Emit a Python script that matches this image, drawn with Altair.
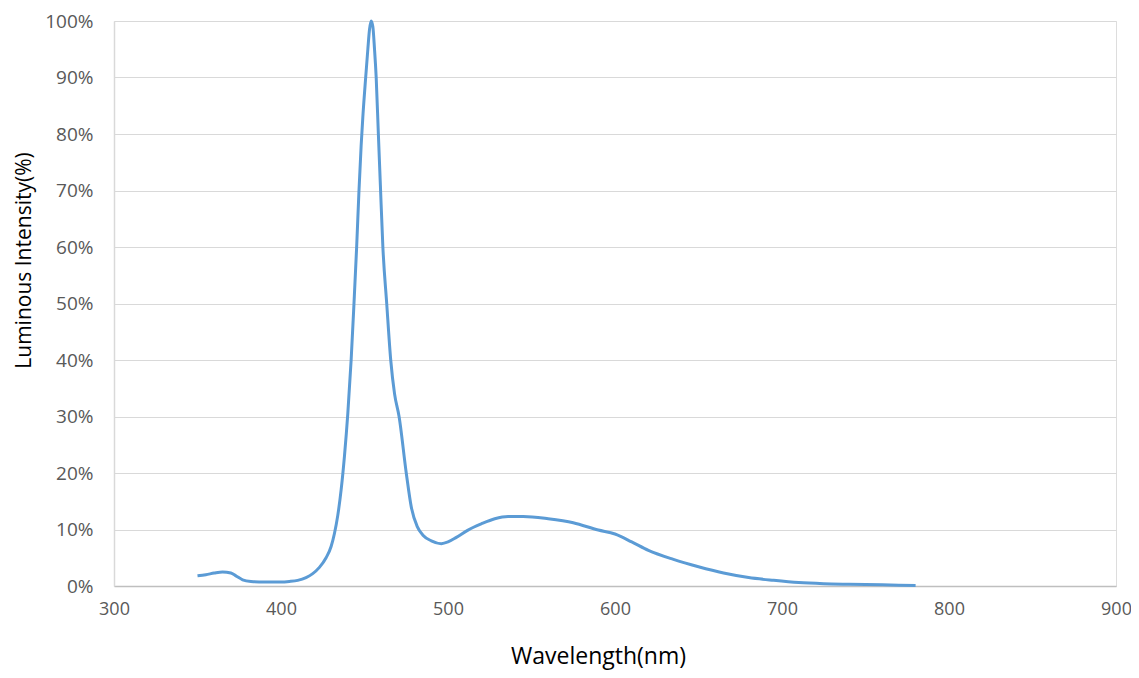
import altair as alt
import pandas as pd

wavelength = [350, 355, 360, 365, 370, 373, 377, 382, 390, 400, 405, 410, 415, 419,
              423, 427, 430, 432, 434, 436, 438, 440, 442, 443.7, 445.3, 446.7, 448,
              449, 450.7, 452, 453, 454, 455, 456, 457, 458.3, 459.5, 461, 463.3,
              465.7, 468, 470.7, 475, 478, 481.6, 485, 490, 496, 500, 505, 512, 520,
              528, 536, 545, 560, 575, 590, 600, 610, 620, 635, 650, 665, 680, 695,
              710, 725, 740, 760, 780]
intensity = [1.8, 2.0, 2.3, 2.5, 2.3, 1.8, 1.1, 0.8, 0.7, 0.7, 0.8, 1.0, 1.5, 2.2,
             3.3, 5.0, 7.0, 9.3, 12.5, 17, 23, 30.5, 40, 50, 60, 70, 78,
             83, 90, 95, 98.5, 100, 99, 95, 90, 80, 71, 60, 50,
             40, 34, 30, 20, 14, 10.5, 9, 8, 7.5, 7.8, 8.6, 9.9, 11.0,
             11.9, 12.3, 12.3, 11.9, 11.2, 9.9, 9.2, 7.8, 6.3, 4.7, 3.4, 2.3, 1.5, 1.0,
             0.6, 0.4, 0.3, 0.2, 0.1]

x_ticks = [300, 400, 500, 600, 700, 800, 900]
y_ticks = [0, 10, 20, 30, 40, 50, 60, 70, 80, 90, 100]

df = pd.DataFrame({"wl": wavelength, "val": intensity})

FONT = "Open Sans"

chart = alt.Chart(df).mark_line(
    color="#5b9bd5", strokeWidth=3, interpolate="monotone"
).encode(
    x=alt.X("wl:Q", scale=alt.Scale(domain=[300, 900], nice=False),
            axis=alt.Axis(values=x_ticks, title="Wavelength(nm)", grid=False,
                          ticks=False, domainColor="#bfbfbf", domainWidth=1.5,
                          labelColor="#595959", labelFontSize=18, labelPadding=14,
                          labelFlush=False,
                          labelFont=FONT, titleFont=FONT, titleFontSize=23,
                          titleFontWeight="normal", titleColor="#000000",
                          titleX=484, titleY=77, titleBaseline="alphabetic",
                          titleAnchor=None)),
    y=alt.Y("val:Q", scale=alt.Scale(domain=[0, 100], nice=False),
            axis=alt.Axis(values=y_ticks, title="Luminous Intensity(%)",
                          labelExpr="datum.value + '%'", grid=True,
                          gridColor="#d9d9d9", gridWidth=1.2, ticks=False,
                          domainColor="#d9d9d9", domainWidth=1.5,
                          labelColor="#595959", labelFontSize=19, labelPadding=21,
                          labelFont=FONT, titleFont=FONT, titleFontSize=21,
                          titleFontWeight="normal", titleColor="#000000",
                          titleX=-90, titleY=239, titleAlign="center",
                          titleBaseline="middle", titleAngle=270)),
).properties(
    width=1002, height=565,
    autosize=alt.AutoSizeParams(type="none"),
    padding={"left": 106, "top": 13, "right": 15, "bottom": 84},
).configure_view(stroke=None).configure(background="white")

chart.save("out.html", embed_options={"renderer": "svg", "actions": False})
